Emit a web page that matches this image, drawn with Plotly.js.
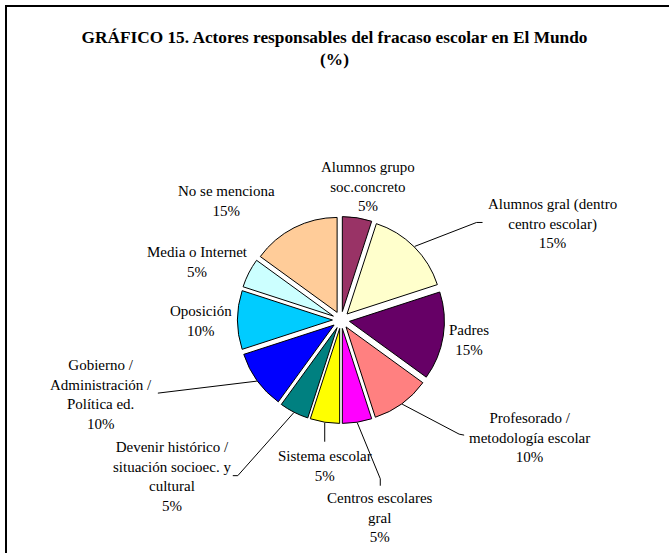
<!DOCTYPE html>
<html><head><meta charset="utf-8">
<script src="https://cdn.plot.ly/plotly-3.0.1.min.js"></script>
<style>html,body{margin:0;padding:0;background:#fff}</style>
</head><body><div id="chart" style="width:669px;height:553px"></div>
<script>
// ---- data ----
const categories = [
  "Alumnos grupo<br>soc.concreto",
  "Alumnos gral (dentro<br>centro escolar)",
  "Padres",
  "Profesorado /<br>metodología escolar",
  "Centros escolares<br>gral",
  "Sistema escolar",
  "Devenir histórico /<br>situación socioec. y<br>cultural",
  "Gobierno /<br>Administración /<br>Política ed.",
  "Oposición",
  "Media o Internet",
  "No se menciona"
];
const values = [5, 15, 15, 10, 5, 5, 5, 10, 10, 5, 15];
const colors = ["#993366", "#FFFFCC", "#660066", "#FF8080", "#FF00FF", "#FFFF00",
                "#008080", "#0000FF", "#00CCFF", "#CCFFFF", "#FFCC99"];

// ---- layout constants ----
const W = 669, H = 553;
const cx = 341, cy = 320, boxSize = 207;
const pull = 0.09;
const anchorR = 104;
const FONT = "Liberation Serif";
// label text-centre offsets (px) from each slice's edge anchor
const labelOffsets = [
  [11, -31], [138, -23], [25, 4], [127, 33], [23, 95], [0, 43],
  [-122, 64], [-156, 13], [-36, 1], [-51, -11], [-67, -26]
];
// leader lines: [bend dx, bend dy, tick dx, tick dy] relative to anchor, or null
const leaders = [
  null, [62, -24, 6, 0], null, [57, 30, 5, 1], [23, 56, 0, 7], [0, 19, 0, 0],
  [-56, 63, -5, 0], [-99, 12, 0, 0], null, null, null
];

const toX = px => px / W;
const toY = py => 1 - py / H;
const total = values.reduce((a, b) => a + b, 0);
let cum = 0;
const annotations = [];
const shapes = [{
  type: "rect", xref: "paper", yref: "paper",
  x0: 6 / W, x1: 1.05, y0: -0.05, y1: 1 - 6 / H,
  line: {color: "#000", width: 2}
}];
values.forEach((v, i) => {
  const mid = (cum + v / 2) / total * 2 * Math.PI;
  cum += v;
  const px = cx + anchorR * Math.sin(mid);
  const py = cy - anchorR * Math.cos(mid);
  const [ox, oy] = labelOffsets[i];
  annotations.push({
    xref: "paper", yref: "paper", x: toX(px + ox), y: toY(py + oy),
    text: categories[i] + "<br>" + Math.round(v / total * 100) + "%",
    showarrow: false, xanchor: "center", yanchor: "middle", align: "center",
    font: {family: FONT, size: 15, color: "#000"}
  });
  const L = leaders[i];
  if (L) {
    const bx = px + L[0], by = py + L[1];
    const ex = bx + L[2], ey = by + L[3];
    shapes.push({
      type: "path", xref: "paper", yref: "paper",
      path: `M ${toX(px)} ${toY(py)} L ${toX(bx)} ${toY(by)} L ${toX(ex)} ${toY(ey)}`,
      line: {color: "#000", width: 1}
    });
  }
});

const trace = {
  type: "pie",
  labels: categories,
  values: values,
  sort: false,
  direction: "clockwise",
  rotation: 0,
  pull: pull,
  textinfo: "none",
  hoverinfo: "label+percent",
  marker: {colors: colors, line: {color: "#000", width: 1}},
  domain: {
    x: [(cx - boxSize / 2) / W, (cx + boxSize / 2) / W],
    y: [(H - cy - boxSize / 2) / H, (H - cy + boxSize / 2) / H]
  },
  showlegend: false
};

const layout = {
  width: W, height: H,
  margin: {l: 0, r: 0, t: 0, b: 0},
  paper_bgcolor: "#fff",
  font: {family: FONT, color: "#000"},
  title: {
    text: "<b>GRÁFICO 15. Actores responsables del fracaso escolar en El Mundo<br>(%)</b>",
    font: {family: FONT, size: 17.3, color: "#000"},
    x: 0.5, xanchor: "center", y: 1 - 43 / H, yanchor: "middle", yref: "container"
  },
  annotations: annotations,
  shapes: shapes
};

Plotly.newPlot("chart", [trace], layout, {displayModeBar: false, staticPlot: true});
</script></body></html>
